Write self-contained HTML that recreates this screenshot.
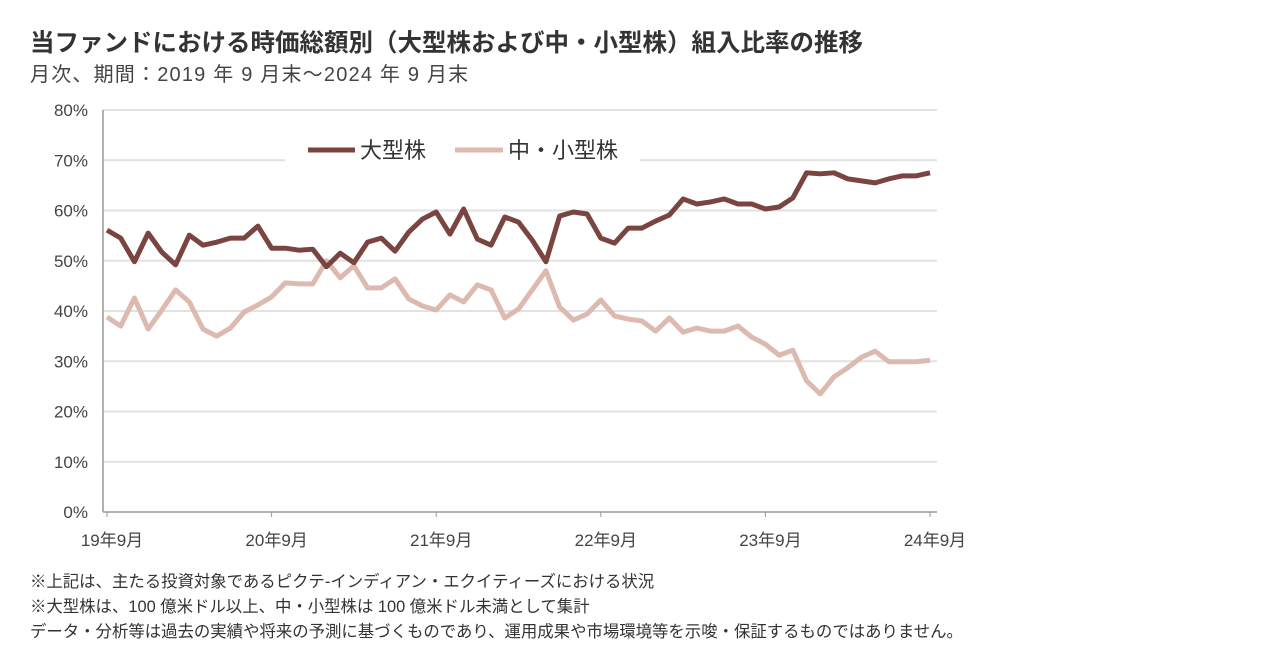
<!DOCTYPE html>
<html><head><meta charset="utf-8">
<style>
body{margin:0;width:1270px;height:672px;background:#fff;overflow:hidden;font-family:"Liberation Sans","Noto Sans CJK JP",sans-serif;color:#333}
.t{position:absolute;white-space:nowrap}
</style></head><body>
<div class="t" style="left:30px;top:24px;font-size:24.5px;font-weight:bold;color:#333">当ファンドにおける時価総額別（大型株および中・小型株）組入比率の推移</div>
<div class="t" style="left:30px;top:58px;font-size:20px;letter-spacing:1.2px;color:#444">月次、期間：2019 年 9 月末～2024 年 9 月末</div>
<svg id="chart" width="1270" height="672" style="position:absolute;left:0;top:0"></svg>
<div class="t" style="left:30px;top:568px;font-size:16.4px">※上記は、主たる投資対象であるピクテ-インディアン・エクイティーズにおける状況</div>
<div class="t" style="left:30px;top:593px;font-size:16.4px">※大型株は、100 億米ドル以上、中・小型株は 100 億米ドル未満として集計</div>
<div class="t" style="left:30px;top:618px;font-size:16.4px">データ・分析等は過去の実績や将来の予測に基づくものであり、運用成果や市場環境等を示唆・保証するものではありません。</div>
<script>
const large=[56.1,54.5,49.8,55.5,51.7,49.2,55.1,53.1,53.7,54.5,54.5,56.9,52.5,52.5,52.1,52.3,48.8,51.5,49.6,53.7,54.5,51.9,55.7,58.3,59.7,55.3,60.3,54.3,53.1,58.7,57.7,54.1,49.8,58.9,59.7,59.3,54.5,53.5,56.5,56.5,57.9,59.1,62.3,61.3,61.7,62.3,61.3,61.3,60.3,60.7,62.5,67.5,67.3,67.5,66.3,65.9,65.5,66.3,66.9,66.9,67.5];
const small=[38.8,37.0,42.6,36.4,40.2,44.2,41.8,36.4,35.0,36.6,39.8,41.2,42.8,45.6,45.4,45.4,50.0,46.6,49.0,44.6,44.6,46.4,42.4,41.0,40.2,43.2,41.8,45.2,44.2,38.6,40.4,44.2,48.0,40.8,38.2,39.4,42.2,39.0,38.4,38.0,36.0,38.6,35.8,36.6,36.0,36.0,37.0,34.8,33.4,31.2,32.2,26.1,23.5,26.9,28.7,30.8,32.0,29.9,29.9,29.9,30.2];
const yTicks=[0,10,20,30,40,50,60,70,80];
const xLabels=["19年9月","20年9月","21年9月","22年9月","23年9月","24年9月"];
const xLabelIdx=[0,12,24,36,48,60];
const NS="http://www.w3.org/2000/svg",svg=document.getElementById('chart');
const X=i=>107+i*(823/60), Y=v=>512-v*5.025;
function mk(t,a){const e=document.createElementNS(NS,t);for(const k in a)e.setAttribute(k,a[k]);svg.appendChild(e);return e;}
yTicks.forEach(v=>{
 const g=mk('line',{x1:103,x2:937,y1:Y(v),y2:Y(v),stroke:v===0?'#999':'#e2e2e2','stroke-width':v===0?1.5:2});
 
 
 const t=mk('text',{x:88,y:Y(v)+6,'text-anchor':'end','font-size':17,fill:'#444'});t.textContent=v+'%';
 
 
});
const ax=mk('line',{x1:103,x2:103,y1:Y(80),y2:Y(0),stroke:'#999','stroke-width':1.5});


xLabels.forEach((l,k)=>{
 const xx=X(xLabelIdx[k]);
 const tk=mk('line',{x1:xx,x2:xx,y1:512,y2:517,stroke:'#999'});
 
 
 const t=mk('text',{x:xx+5,y:546,'text-anchor':'middle','font-size':17,fill:'#444'});t.textContent=l;
 
 
});
function line(d,c,n){const p=mk('polyline',{points:d.map((v,i)=>X(i)+','+Y(v)).join(' '),fill:'none',stroke:c,'stroke-width':5,'stroke-linejoin':'round'});
 
 }
line(small,'#dcbab0','series-small-mid-cap');
line(large,'#7a4540','series-large-cap');
const lb=mk('rect',{x:285,y:135,width:355,height:30,fill:'#fff'});


const l1=mk('line',{x1:308,x2:355,y1:150,y2:150,stroke:'#7a4540','stroke-width':5});


const t1=mk('text',{x:360,y:158,'font-size':22,fill:'#333'});t1.textContent='大型株';


const l2=mk('line',{x1:455,x2:503,y1:150,y2:150,stroke:'#dcbab0','stroke-width':5});


const t2=mk('text',{x:508,y:158,'font-size':22,fill:'#333'});t2.textContent='中・小型株';


</script>
</body></html>
